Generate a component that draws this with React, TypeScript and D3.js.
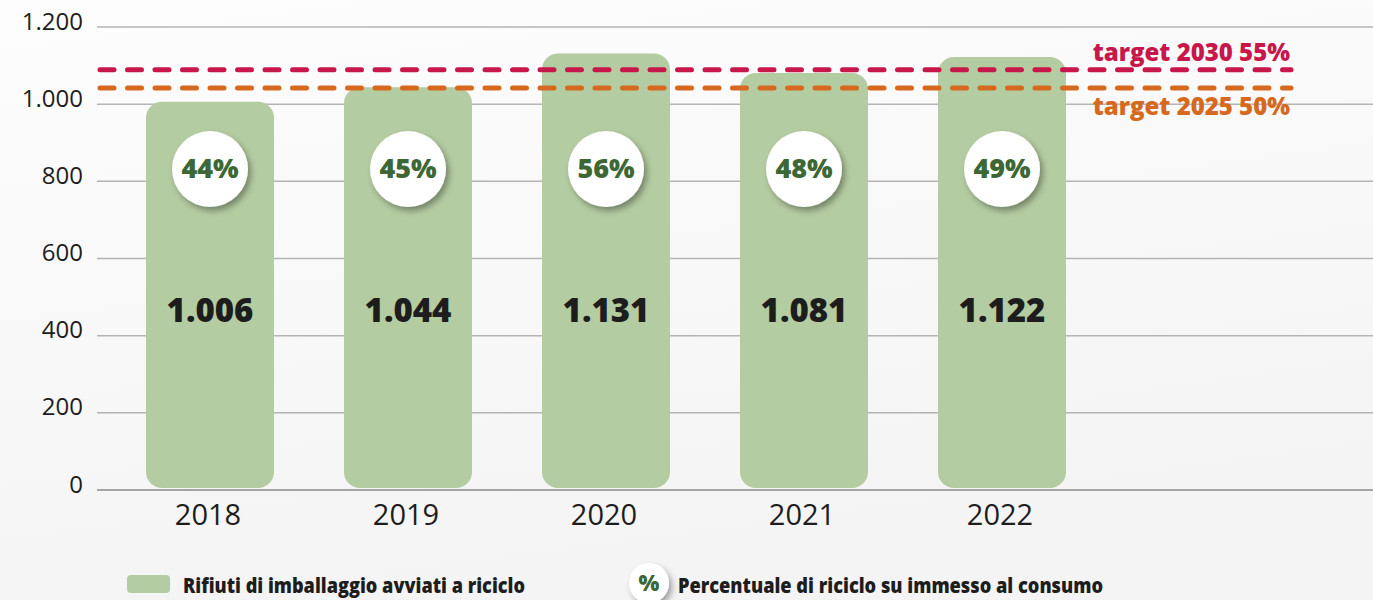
import React, { useEffect, useRef } from 'react'
import * as d3 from 'd3'

const years = ['2018', '2019', '2020', '2021', '2022']
const recycled = [1006, 1044, 1131, 1081, 1122]
const recyclePct = [44, 45, 56, 48, 49]
const yTicks = [0, 200, 400, 600, 800, 1000, 1200]
const targetLabels = ['target 2030 55%', 'target 2025 50%']
const targetValues = [1089, 1042]
const targetColors = ['#c8174a', '#d6691e']
const legendLabels = ['Rifiuti di imballaggio avviati a riciclo', 'Percentuale di riciclo su immesso al consumo']

const itLocale = d3.formatLocale({ decimal: ',', thousands: '.', grouping: [3], currency: ['€', ''] })
const fmt = itLocale.format(',')

const BAR = '#b4cca2'
const GREEN_TEXT = '#3d6836'
const DARK = '#1d1d1d'

export default function App() {
  const svgRef = useRef<SVGSVGElement>(null)

  useEffect(() => {
    document.body.style.margin = '0'
    if (!svgRef.current) return
    const svg = d3.select(svgRef.current)
    svg.selectAll('*').remove()

    const width = 1373
    const height = 600

    const defs = svg.append('defs')
    const grad = defs.append('linearGradient').attr('id', 'bg').attr('x1', 0).attr('y1', 0).attr('x2', 0.3).attr('y2', 1)
    grad.append('stop').attr('offset', '0%').attr('stop-color', '#fdfdfd')
    grad.append('stop').attr('offset', '100%').attr('stop-color', '#f4f4f4')
    const shadow = defs.append('filter').attr('id', 'shadow').attr('x', '-30%').attr('y', '-30%').attr('width', '170%').attr('height', '170%')
    shadow.append('feDropShadow')
      .attr('dx', 3).attr('dy', 4).attr('stdDeviation', 3)
      .attr('flood-color', '#000').attr('flood-opacity', 0.35)

    svg.append('rect').attr('width', width).attr('height', height).attr('fill', 'url(#bg)')

    const y = d3.scaleLinear().domain([0, 1200]).range([490, 27])
    const x = d3.scaleBand<string>()
      .domain(years)
      .range([111, 1101])
      .paddingInner(70 / 198)
      .paddingOuter(35 / 198)

    // gridlines
    svg.append('g')
      .selectAll('line')
      .data(yTicks)
      .join('line')
      .attr('x1', 97)
      .attr('x2', width)
      .attr('y1', (d) => y(d))
      .attr('y2', (d) => y(d))
      .attr('stroke', (d) => (d === 0 ? '#8a8a8a' : '#b4b4b4'))
      .attr('stroke-width', 1.5)

    svg.append('g')
      .selectAll('text')
      .data(yTicks)
      .join('text')
      .attr('x', 83)
      .attr('y', (d) => y(d) + 2.5)
      .attr('text-anchor', 'end')
      .style('font-family', '"Open Sans", sans-serif')
      .style('font-size', '24px')
      .style('fill', DARK)
      .text((d) => fmt(d))

    // bars
    svg.append('g')
      .selectAll('rect')
      .data(recycled)
      .join('rect')
      .attr('x', (d, i) => x(years[i]) || 0)
      .attr('y', (d) => y(d))
      .attr('width', x.bandwidth())
      .attr('height', (d) => y(0) - 2 - y(d))
      .attr('rx', 16)
      .attr('fill', BAR)

    // target lines
    const tg = svg.append('g')
    targetValues.forEach((v, i) => {
      tg.append('line')
        .attr('x1', 100)
        .attr('x2', 1291)
        .attr('y1', y(v))
        .attr('y2', y(v))
        .attr('stroke', targetColors[i])
        .attr('stroke-width', 5)
        .attr('stroke-linecap', 'round')
        .attr('stroke-dasharray', '14 13.5')
      tg.append('text')
        .attr('x', 1290)
        .attr('y', i === 0 ? y(v) - 9 : y(v) + 27)
        .attr('text-anchor', 'end')
        .style('font-family', '"Open Sans", sans-serif')
        .style('font-weight', '800')
        .style('font-size', '24px')
        .style('fill', targetColors[i])
        .text(targetLabels[i])
    })

    // percentage circles
    const cg = svg.append('g')
    recyclePct.forEach((p, i) => {
      const cx = (x(years[i]) || 0) + x.bandwidth() / 2
      cg.append('circle')
        .attr('cx', cx)
        .attr('cy', 169)
        .attr('r', 38)
        .attr('fill', '#fff')
        .attr('filter', 'url(#shadow)')
      cg.append('text')
        .attr('x', cx)
        .attr('y', 178)
        .attr('text-anchor', 'middle')
        .style('font-family', '"Open Sans", sans-serif')
        .style('font-weight', '800')
        .style('font-size', '27px')
        .style('fill', GREEN_TEXT)
        .text(`${p}%`)
    })

    // value labels
    svg.append('g')
      .selectAll('text')
      .data(recycled)
      .join('text')
      .attr('x', (d, i) => (x(years[i]) || 0) + x.bandwidth() / 2)
      .attr('y', 322)
      .attr('text-anchor', 'middle')
      .style('font-family', '"Open Sans", sans-serif')
      .style('font-weight', '800')
      .style('font-size', '33px')
      .style('fill', DARK)
      .text((d) => fmt(d))

    // x axis labels
    svg.append('g')
      .selectAll('text')
      .data(years)
      .join('text')
      .attr('x', (d) => (x(d) || 0) + x.bandwidth() / 2 - 2)
      .attr('y', 525)
      .attr('text-anchor', 'middle')
      .style('font-family', '"Open Sans", sans-serif')
      .style('font-size', '29px')
      .style('fill', DARK)
      .text((d) => d)

    // legend
    const lg = svg.append('g')
    lg.append('rect')
      .attr('x', 127).attr('y', 575).attr('width', 43).attr('height', 18).attr('rx', 4)
      .attr('fill', BAR)
    lg.append('text')
      .attr('x', 183).attr('y', 593)
      .attr('textLength', 342)
      .attr('lengthAdjust', 'spacingAndGlyphs')
      .style('font-family', '"Open Sans", sans-serif')
      .style('font-weight', '800')
      .style('font-size', '21px')
      .style('fill', DARK)
      .text(legendLabels[0])
    lg.append('circle')
      .attr('cx', 649).attr('cy', 583).attr('r', 20)
      .attr('fill', '#fff')
      .attr('filter', 'url(#shadow)')
    lg.append('text')
      .attr('x', 649).attr('y', 591)
      .attr('text-anchor', 'middle')
      .style('font-family', '"Open Sans", sans-serif')
      .style('font-weight', '800')
      .style('font-size', '22px')
      .style('fill', GREEN_TEXT)
      .text('%')
    lg.append('text')
      .attr('x', 678).attr('y', 593)
      .attr('textLength', 425)
      .attr('lengthAdjust', 'spacingAndGlyphs')
      .style('font-family', '"Open Sans", sans-serif')
      .style('font-weight', '800')
      .style('font-size', '21px')
      .style('fill', DARK)
      .text(legendLabels[1])
  }, [])

  return <svg ref={svgRef} width={1373} height={600} style={{ display: 'block' }} />
}
